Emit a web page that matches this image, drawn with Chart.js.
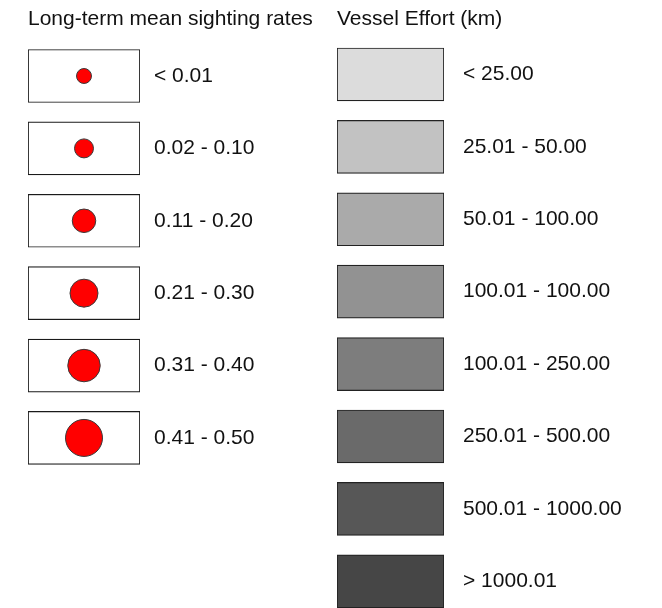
<!DOCTYPE html>
<html lang="en">
<head>
<meta charset="UTF-8">
<title>Sighting rates and vessel effort legend</title>
<script src="https://cdn.jsdelivr.net/npm/chart.js"></script>
<style>
  html, body { margin: 0; padding: 0; background: #fff; }
  #wrap { position: relative; width: 662px; height: 608px; overflow: hidden; }
  .box { position: absolute; top: 0; height: 608px; }
  #left { left: 0; width: 330px; }
  #right { left: 330px; width: 332px; }
</style>
</head>
<body>
<div id="wrap">
  <div class="box" id="left"><canvas id="sightChart"></canvas></div>
  <div class="box" id="right"><canvas id="effortChart"></canvas></div>
</div>
<script>
// legend classes
const sightingClasses = ['< 0.01', '0.02 - 0.10', '0.11 - 0.20', '0.21 - 0.30', '0.31 - 0.40', '0.41 - 0.50'];
const sightingRates = [0.01, 0.10, 0.20, 0.30, 0.40, 0.50]; // upper bound of each class
const effortClasses = ['< 25.00', '25.01 - 50.00', '50.01 - 100.00', '100.01 - 100.00',
  '100.01 - 250.00', '250.01 - 500.00', '500.01 - 1000.00', '> 1000.01'];
const effortGreys = ['#dcdcdc', '#c2c2c2', '#aaaaaa', '#929292', '#7d7d7d', '#6a6a6a', '#575757', '#464646'];

const FONT = { family: '"Liberation Sans", Arial, sans-serif', size: 21, weight: 'normal' };
const TEXT = '#111111';

// circle size grows with the rate
function bubbleRadius(rate) { return 7.25 + 22.5 * rate; }

// y scale: one unit per legend row, reversed so row 0 is at the top
function rowAxis(labels, yMin, yMax, width, pad) {
  return {
    type: 'linear', position: 'right', reverse: true, min: yMin, max: yMax, offset: false,
    grid: { display: false, drawTicks: false, offset: false }, border: { display: false },
    afterBuildTicks: s => { s.ticks = labels.map((_, i) => ({ value: i })); },
    afterFit: s => {
      s.width = width;
      s.paddingTop = 0; s.paddingBottom = 0; // rows don't sit at the axis ends
    },
    ticks: { padding: pad, color: TEXT, font: FONT, autoSkip: false, callback: v => labels[v] }
  };
}

function titleOpts(text) {
  return { display: true, text: text, align: 'start', color: TEXT, font: FONT, padding: { top: 6.6, bottom: 6.2 } };
}

const common = {
  responsive: true, maintainAspectRatio: false, animation: false, events: [],
  plugins: { legend: { display: false }, tooltip: { enabled: false } }
};

// left: sighting rates (bubbles reserve ~20px at the bottom, hence the shorter range)
new Chart(document.getElementById('sightChart'), {
  data: {
    datasets: [{
      type: 'bubble',
      data: sightingRates.map((v, i) => ({ x: 0.5, y: i, r: bubbleRadius(v) })),
      backgroundColor: '#ff0000', borderColor: '#3a3a3a', borderWidth: 1
    }, {
      type: 'bar', indexAxis: 'y',
      data: sightingClasses.map((_, i) => ({ x: [0, 1], y: i })),
      backgroundColor: '#ffffff', borderColor: '#1a1a1a', borderWidth: 1.2,
      borderSkipped: false, barThickness: 53
    }]
  },
  options: Object.assign({}, common, {
    layout: { padding: { left: 28, right: 0, top: 0, bottom: 0 } },
    plugins: Object.assign({}, common.plugins, { title: titleOpts('Long-term mean sighting rates') }),
    scales: {
      x: { type: 'linear', min: 0, max: 1, display: false, offset: false },
      y: rowAxis(sightingClasses, -0.525, 7.08, 190, 14)
    }
  })
});

// right: vessel effort
new Chart(document.getElementById('effortChart'), {
  type: 'bar',
  data: {
    datasets: [{
      indexAxis: 'y',
      data: effortClasses.map((_, i) => ({ x: [0, 1], y: i })),
      backgroundColor: effortGreys, borderColor: '#222222', borderWidth: 1.2,
      borderSkipped: false, barThickness: 53
    }]
  },
  options: Object.assign({}, common, {
    indexAxis: 'y',
    layout: { padding: { left: 7, right: 0, top: 0, bottom: 0 } },
    plugins: Object.assign({}, common.plugins, { title: titleOpts('Vessel Effort (km)') }),
    scales: {
      x: { type: 'linear', min: 0, max: 1, display: false, offset: false },
      y: rowAxis(effortClasses, -0.504, 7.369, 218, 19)
    }
  })
});
</script>
</body>
</html>
